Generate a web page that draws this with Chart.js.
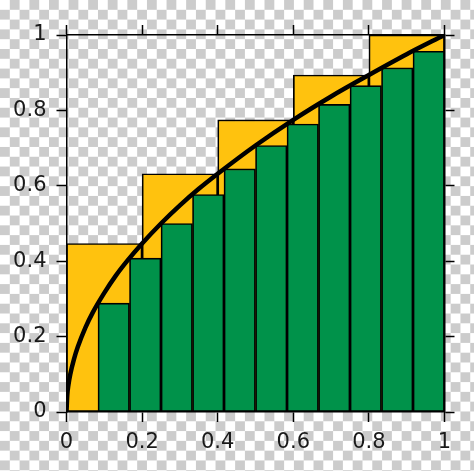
<!DOCTYPE html>
<html>
<head>
<meta charset="utf-8">
<script src="https://cdn.jsdelivr.net/npm/chart.js@4/dist/chart.umd.min.js"></script>
<style>
  html, body { margin: 0; padding: 0; }
  body {
    width: 474px; height: 471px; overflow: hidden;
    background-color: #fff;
    background-image: repeating-conic-gradient(#cccccc 0% 25%, #ffffff 0% 50%);
    background-size: 19.6px 19.6px;
  }
  canvas { display: block; }
</style>
</head>
<body>
<canvas id="myChart" width="474" height="471"></canvas>
<script>
// curve y = sqrt(x)
const curveX = [0, 0.002, 0.005, 0.01, 0.02, 0.03, 0.05, 0.07, 0.1, 0.13, 0.16, 0.2, 0.25, 0.3, 0.35, 0.4, 0.5, 0.6, 0.7, 0.8, 0.9, 1];
const curveY = [0, 0.045, 0.071, 0.1, 0.141, 0.173, 0.224, 0.265, 0.316, 0.361, 0.4, 0.447, 0.5, 0.548, 0.592, 0.632, 0.707, 0.775, 0.837, 0.894, 0.949, 1];

// upper sum (yellow), bar centres and heights
const upperX = [0.1, 0.3, 0.5, 0.7, 0.9];
const upperY = [0.447, 0.632, 0.775, 0.894, 1];

// lower sum (green), bar centres and heights
const lowerX = [0.125, 0.2083, 0.2917, 0.375, 0.4583, 0.5417, 0.625, 0.7083, 0.7917, 0.875, 0.9583];
const lowerY = [0.289, 0.408, 0.5, 0.577, 0.645, 0.707, 0.764, 0.816, 0.866, 0.913, 0.957];

const tickLabels = ['0', '0.2', '0.4', '0.6', '0.8', '1'];

function pts(xs, ys) {
  return xs.map((x, i) => ({x: x, y: ys[i]}));
}

const tickFont = {family: 'DejaVu Sans', size: 21};
const frame = {display: true, color: '#000', width: 1.5};
const marks = {drawOnChartArea: false, drawTicks: true, tickLength: 10, tickWidth: 1.5, tickColor: '#000', offset: false};

let ctx = document.getElementById('myChart').getContext('2d');
let myChart = new Chart(ctx, {
  type: 'bar',
  data: {
    datasets: [
      {
        type: 'line',
        data: pts(curveX, curveY),
        xAxisID: 'x',
        yAxisID: 'y',
        borderColor: '#000',
        borderWidth: 4.5,
        pointRadius: 0,
        cubicInterpolationMode: 'monotone',
        fill: false,
        order: 0
      },
      {
        data: pts(lowerX, lowerY),
        xAxisID: 'x2',
        yAxisID: 'y',
        backgroundColor: '#00924A',
        borderColor: '#000',
        borderWidth: 1.7,
        borderSkipped: false,
        grouped: false,
        barPercentage: 1,
        categoryPercentage: 1,
        order: 1
      },
      {
        data: pts(upperX, upperY),
        xAxisID: 'x',
        yAxisID: 'y',
        backgroundColor: '#FFC20E',
        borderColor: '#000',
        borderWidth: 1.7,
        borderSkipped: false,
        grouped: false,
        barPercentage: 1,
        categoryPercentage: 1,
        order: 2
      }
    ]
  },
  options: {
    responsive: false,
    animation: false,
    layout: {padding: 0},
    plugins: {legend: {display: false}, tooltip: {enabled: false}},
    scales: {
      x: {
        type: 'linear', position: 'bottom', min: 0, max: 1, offset: false,
        border: frame, grid: marks,
        ticks: {stepSize: 0.2, font: tickFont, color: '#1a1a1a', padding: 8, maxRotation: 0,
          callback: (v, i) => tickLabels[i]},
        afterFit: s => { s.height = 59; }
      },
      x2: {
        type: 'linear', position: 'top', min: 0, max: 1, offset: false,
        border: frame, grid: marks,
        ticks: {stepSize: 0.2, display: false},
        afterFit: s => { s.height = 35; }
      },
      y: {
        type: 'linear', position: 'left', min: 0, max: 1,
        border: frame, grid: marks,
        ticks: {stepSize: 0.2, font: tickFont, color: '#1a1a1a', padding: 10,
          callback: (v, i) => tickLabels[i]},
        afterFit: s => { s.width = 66.5; }
      },
      y2: {
        type: 'linear', position: 'right', min: 0, max: 1,
        border: frame, grid: marks,
        ticks: {stepSize: 0.2, display: false},
        afterFit: s => { s.width = 29.5; }
      }
    }
  }
});
</script>
</body>
</html>
